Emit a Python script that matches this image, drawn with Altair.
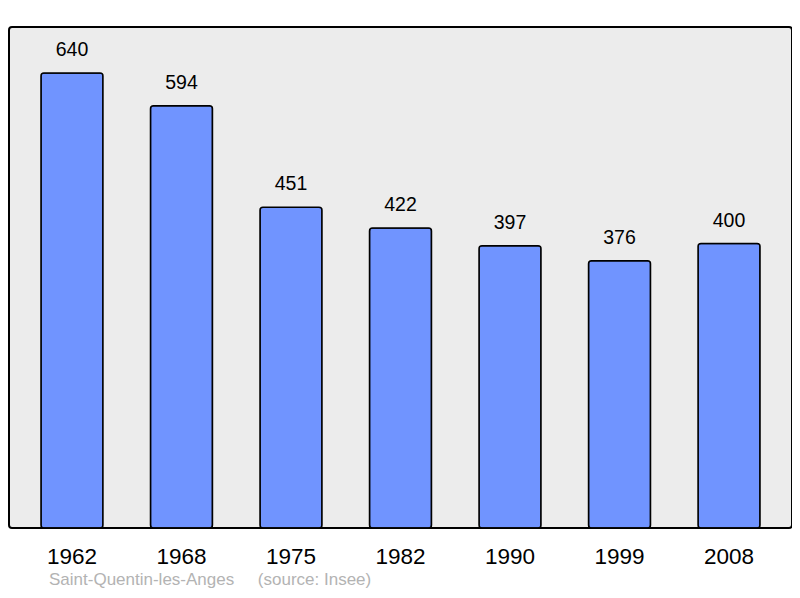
import altair as alt
import pandas as pd

years = ["1962", "1968", "1975", "1982", "1990", "1999", "2008"]
population = [640, 594, 451, 422, 397, 376, 400]

df = pd.DataFrame({"year": years, "pop": population})

x = alt.X("year:N", sort=years, title=None,
          scale=alt.Scale(paddingInner=0.434, paddingOuter=0.292),
          axis=alt.Axis(labelAngle=0, domain=False, ticks=False, labelFontSize=22.5,
                        labelFont="Liberation Sans", labelColor="#000000", labelPadding=17))
y = alt.Y("pop:Q", title=None, scale=alt.Scale(domain=[0, 704.6], nice=False, zero=True),
          axis=None)

bars = alt.Chart(df).mark_bar(color="#7094ff", stroke="#000000", strokeWidth=1.5,
                              cornerRadius=3).encode(x=x, y=y)
labels = alt.Chart(df).mark_text(dy=-13, fontSize=19.5, font="Liberation Sans",
                                 color="#000000", baseline="bottom").encode(
    x=x, y=y, text="pop:Q")

chart = (bars + labels).properties(
    width=783, height=501,
    autosize=alt.AutoSizeParams(type="none"),
    padding={"left": 1, "top": 19, "right": 0, "bottom": 62},
    title=alt.TitleParams(
        "Saint-Quentin-les-Anges\u00a0\u00a0\u00a0\u00a0\u00a0(source: Insee)",
        orient="bottom", anchor="start", dx=40, offset=4,
        fontSize=17, font="Liberation Sans", fontWeight="normal", color="#b3b3b3"),
).configure_view(
    fill="#ececec", stroke="#000000", strokeWidth=2, cornerRadius=3
)

chart.save("out.html", embed_options={"renderer": "svg", "actions": False})
